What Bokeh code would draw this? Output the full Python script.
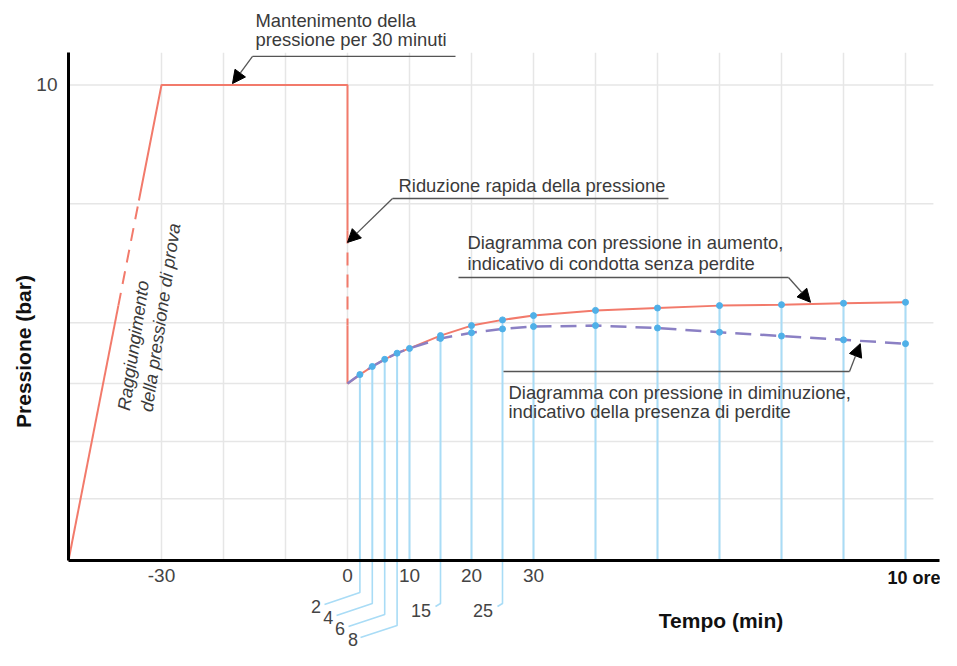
import numpy as np
from bokeh.plotting import figure
from bokeh.models import Range1d, FixedTicker, LinearAxis, Arrow, NormalHead
from bokeh.core.properties import value
from bokeh.embed import file_html
from bokeh.resources import INLINE

# ---------------- data ----------------
# time axis positions in minutes (after 30 min each grid step is a longer interval, 90 = "10 ore")
time_points = [0, 2, 4, 6, 8, 10, 15, 20, 25, 30, 40, 50, 60, 70, 80, 90]
p_no_leak = [3.72, 3.91, 4.08, 4.23, 4.36, 4.46, 4.73, 4.94, 5.06, 5.15, 5.26, 5.31, 5.36, 5.38, 5.41, 5.43]
p_leak = [3.72, 3.91, 4.08, 4.23, 4.36, 4.46, 4.67, 4.79, 4.87, 4.92, 4.94, 4.89, 4.80, 4.72, 4.64, 4.56]
# test phase: ramp to test pressure, hold 30 min, rapid reduction
phase_t = [-45, -30, 0, 0]
phase_p = [0, 10, 10, 3.72]
x_tick_values = [-30, 0, 10, 20, 30]
end_label_t = 90
end_label = "10 ore"
small_label_t = [2, 4, 6, 8, 15, 25]
small_labels = ["2", "4", "6", "8", "15", "25"]
y_tick_values = [10]
grid_t = [-30, -20, -10, 0, 10, 20, 30, 40, 50, 60, 70, 80, 90]
grid_p = [1.3, 2.5, 3.72, 5.0, 7.5, 10.0]

# ---------------- layout / style constants ----------------
FONT = "Liberation Sans"
TXT = "#3a3a3a"
RED = "#f27a6b"
PURPLE = "#8b80c4"
BLUE_LINE = "#a9dcf6"
BLUE_DOT = "#4fb0e8"
GRID = "#e6e6e6"
X_LO, X_HI = -55.968, 95.645
Y_LO, Y_HI = -1.893, 11.777
AX_X0, AX_X1 = -45, 95.5
AX_YTOP = 10.68

# leader drops below the axis for the small labels
lead_drop = [-0.673, -0.904, -1.136, -1.367, -0.904, -0.904]
lead_end_dx = [-5.71, -5.77, -5.84, -5.90, -0.81, -0.81]
lead_end_y = [-0.925, -1.157, -1.388, -1.619, -0.967, -0.967]
lab_dx = [-1.35, -1.35, -1.35, -1.2, -2.35, -2.35]
lab_dy = [-0.05, -0.05, -0.05, -0.04, -0.09, -0.09]

p = figure(width=940, height=650, x_range=Range1d(X_LO, X_HI), y_range=Range1d(Y_LO, Y_HI),
           output_backend="svg", toolbar_location=None, min_border=0,
           x_axis_location=None, y_axis_location=None)
p.outline_line_color = None
p.grid.visible = False
p.background_fill_color = "white"
p.border_fill_color = "white"

# grid
p.segment(x0=grid_t, y0=[0] * len(grid_t), x1=grid_t, y1=[AX_YTOP] * len(grid_t),
          line_color=GRID, line_width=1.5)
p.segment(x0=[AX_X0] * len(grid_p), y0=grid_p, x1=[94.5] * len(grid_p), y1=grid_p,
          line_color=GRID, line_width=1.5)

# blue verticals at measuring times
p.segment(x0=time_points[1:], y0=[0] * (len(time_points) - 1), x1=time_points[1:], y1=p_no_leak[1:],
          line_color=BLUE_LINE, line_width=2)

# blue leaders below the axis
lxs, lys = [], []
for t, d, dx, ey in zip(small_label_t, lead_drop, lead_end_dx, lead_end_y):
    lxs.append([t, t, t + dx])
    lys.append([0, d, ey])
p.multi_line(xs=lxs, ys=lys, line_color=BLUE_LINE, line_width=1.6)
p.text(x=[t + dx + ldx for t, dx, ldx in zip(small_label_t, lead_end_dx, lab_dx)],
       y=[ey + ldy for ey, ldy in zip(lead_end_y, lab_dy)], text=small_labels,
       text_font=value(FONT), text_font_size="18px", text_color="#444444",
       text_align="center", text_baseline="middle")

# red test phase with dashed (interrupted) parts
ramp_t = lambda pp: float(np.interp(pp, [phase_p[0], phase_p[1]], [phase_t[0], phase_t[1]]))
r1, r2 = 5.36, 7.57
d1, d2 = 6.94, 4.94
p.multi_line(xs=[[phase_t[0], ramp_t(r1)], [ramp_t(r2), phase_t[1], phase_t[2], phase_t[3]], [phase_t[3], phase_t[3]]],
             ys=[[phase_p[0], r1], [r2, phase_p[1], phase_p[2], d1], [d2, phase_p[3]]],
             line_color=RED, line_width=2)
p.multi_line(xs=[[ramp_t(r1), ramp_t(r2)], [phase_t[3], phase_t[3]]],
             ys=[[r1, r2], [d1, d2]],
             line_color=RED, line_width=2, line_dash="13 9")

# curves
p.line(time_points, p_no_leak, line_color=RED, line_width=2)
p.line(time_points, p_leak, line_color=PURPLE, line_width=2.5, line_dash="16 9")
p.scatter(time_points[1:], p_no_leak[1:], size=6, color=BLUE_DOT)
p.scatter(time_points[6:], p_leak[6:], size=6, color=BLUE_DOT)

# axes
xaxis = LinearAxis(fixed_location=0, ticker=FixedTicker(ticks=x_tick_values), bounds=(AX_X0, AX_X1),
                   axis_line_width=3, axis_line_color="black",
                   major_tick_in=0, major_tick_out=0, minor_tick_line_color=None,
                   major_label_overrides={-30: "-30"},
                   major_label_text_font=FONT, major_label_text_font_size="19px",
                   major_label_text_color="#444444", major_label_standoff=9)
p.add_layout(xaxis, "below")
xtitle = LinearAxis(fixed_location=0, ticker=FixedTicker(ticks=[]), bounds=(25.0, AX_X1),
                    axis_line_color=None, major_tick_line_color=None, minor_tick_line_color=None,
                    axis_label="Tempo (min)", axis_label_text_font=FONT,
                    axis_label_text_font_style="bold", axis_label_text_font_size="21px",
                    axis_label_text_color="#111111", axis_label_standoff=48)
p.add_layout(xtitle, "below")
yaxis = LinearAxis(fixed_location=AX_X0, ticker=FixedTicker(ticks=y_tick_values), bounds=(0, AX_YTOP),
                   axis_line_width=3, axis_line_color="black",
                   major_tick_in=0, major_tick_out=0, minor_tick_line_color=None,
                   major_label_text_font=FONT, major_label_text_font_size="19px",
                   major_label_text_color="#444444", major_label_standoff=11)
p.add_layout(yaxis, "left")
ytitle = LinearAxis(fixed_location=AX_X0, ticker=FixedTicker(ticks=[]), bounds=(-2.24, AX_YTOP),
                    axis_line_color=None, major_tick_line_color=None, minor_tick_line_color=None,
                    axis_label="Pressione (bar)", axis_label_text_font=FONT,
                    axis_label_text_font_style="bold", axis_label_text_font_size="21px",
                    axis_label_text_color="#111111", axis_label_standoff=34)
p.add_layout(ytitle, "left")

p.text(x=[end_label_t], y=[0], text=[end_label], x_offset=-18, y_offset=18,
       text_font=value(FONT), text_font_size="18px", text_font_style="bold", text_color="#111111",
       text_align="left", text_baseline="middle")

# annotations
ann_x = [-14.84, -14.84, 8.23, 19.35, 19.35, 25.97, 25.97]
ann_y = [11.356, 10.957, 7.89, 6.688, 6.246, 3.533, 3.134]
ann_text = ["Mantenimento della", "pressione per 30 minuti",
            "Riduzione rapida della pressione",
            "Diagramma con pressione in aumento,", "indicativo di condotta senza perdite",
            "Diagramma con pressione in diminuzione,", "indicativo della presenza di perdite"]
p.text(x=ann_x, y=ann_y, text=ann_text, text_font=value(FONT), text_font_size="18.4px",
       text_color=TXT, text_align="left", text_baseline="middle")

p.text(x=[-34.52, -30.16], y=[4.52, 5.11], text=["Raggiungimento", "della pressione di prova"],
       angle=1.4224, text_font=value(FONT), text_font_size="18px", text_font_style="italic",
       text_color=TXT, text_align="center", text_baseline="middle")

# leader lines and arrows
p.multi_line(xs=[[-15.32, 17.42], [7.26, 51.77], [17.9, 71.13], [25.16, 80.97]],
             ys=[[10.60, 10.60], [7.613, 7.613], [5.952, 5.952], [3.975, 3.975]],
             line_color="#555555", line_width=1.3)
arrows = [((-15.32, 10.60), (-18.55, 10.03)), ((7.26, 7.613), (0.0, 6.69)),
          ((71.13, 5.952), (74.68, 5.43)), ((80.97, 3.975), (82.7, 4.56))]
for (xs, ys), (xe, ye) in arrows:
    p.add_layout(Arrow(end=NormalHead(size=13, fill_color="black", line_color="black"),
                       x_start=xs, y_start=ys, x_end=xe, y_end=ye,
                       line_color="#555555", line_width=1.3))

open("out.html", "w").write(file_html(p, INLINE))
